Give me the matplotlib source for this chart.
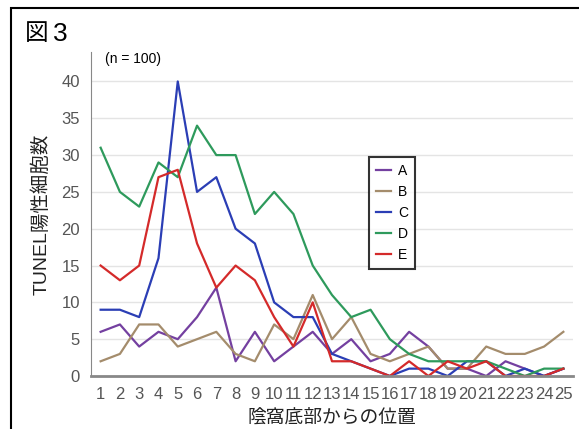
import matplotlib
matplotlib.use("Agg")
import matplotlib.pyplot as plt
from matplotlib.patches import Rectangle
import numpy as np

plt.rcParams['font.family'] = ['Liberation Sans', 'Noto Sans CJK JP', 'DejaVu Sans']

# position from crypt base
positions = list(range(1, 26))

series_a = [6, 7, 4, 6, 5, 8, 12, 2, 6, 2, 4, 6, 3, 5, 2, 3, 6, 4, 1, 1, 0, 2, 1, 0, 1]
series_b = [2, 3, 7, 7, 4, 5, 6, 3, 2, 7, 5, 11, 5, 8, 3, 2, 3, 4, 1, 1, 4, 3, 3, 4, 6]
series_c = [9, 9, 8, 16, 40, 25, 27, 20, 18, 10, 8, 8, 3, 2, 1, 0, 1, 1, 0, 2, 2, 0, 1, 0, 1]
series_d = [31, 25, 23, 29, 27, 34, 30, 30, 22, 25, 22, 15, 11, 8, 9, 5, 3, 2, 2, 2, 2, 1, 0, 1, 1]
series_e = [15, 13, 15, 27, 28, 18, 12, 15, 13, 8, 4, 10, 2, 2, 1, 0, 2, 0, 2, 1, 2, 0, 0, 0, 1]

labels = ['A', 'B', 'C', 'D', 'E']
colors = ['#7440A0', '#A48C6C', '#2B3EB5', '#2E9A5C', '#D42A2A']
yticks = [0, 5, 10, 15, 20, 25, 30, 35, 40]

fig = plt.figure(figsize=(5.79, 4.29), dpi=100)
ax = fig.add_axes([91 / 579, 1 - 376 / 429, (573 - 91) / 579, (376 - 52) / 429])

for vals, lab, col in zip([series_a, series_b, series_c, series_d, series_e], labels, colors):
    ax.plot(positions, vals, color=col, lw=1.6, label=lab)

ax.set_xlim(0.5, 25.5)
ax.set_ylim(0, 44)
ax.set_xticks(positions)
ax.set_xticklabels([str(p) for p in positions], fontsize=12, color='#555555')
ax.set_yticks(yticks)
ax.set_yticklabels([str(v) for v in yticks], fontsize=12, color='#555555')
ax.tick_params(length=0, pad=8)
ax.grid(axis='y', color='#e4e4e4', lw=1)
ax.set_axisbelow(True)
for s in ['top', 'right']:
    ax.spines[s].set_visible(False)
ax.spines['left'].set_color('#888888')
ax.spines['bottom'].set_color('#888888')
ax.spines['bottom'].set_linewidth(2)

ax.set_ylabel('TUNEL陽性細胞数', fontsize=14, color='#222222', labelpad=8)
ax.set_xlabel('陰窩底部からの位置', fontsize=13.5, color='#222222', labelpad=5)

ax.text(0.03, 1.0, '(n = 100)', transform=ax.transAxes, fontsize=10, va='top')

leg = ax.legend(loc='upper left', bbox_to_anchor=(369 / 579, 1 - 157 / 429),
                bbox_transform=fig.transFigure, borderaxespad=0, fontsize=10,
                handlelength=1.1, handletextpad=0.5, labelspacing=0.5,
                borderpad=0.5, fancybox=False, frameon=True)
leg.get_frame().set_edgecolor('black')
leg.get_frame().set_linewidth(1.5)

fig.text(25 / 579, 1 - 34 / 429, '図', fontsize=17, va='center')
fig.text(53 / 579, 1 - 34 / 429, '3', fontsize=19, va='center')
fig.patches.append(Rectangle((11 / 579, -0.05), 1.0, 1 - 8 / 429 + 0.05,
                             transform=fig.transFigure, fill=False,
                             edgecolor='black', lw=1.5))

fig.savefig('out.png', dpi=100)
